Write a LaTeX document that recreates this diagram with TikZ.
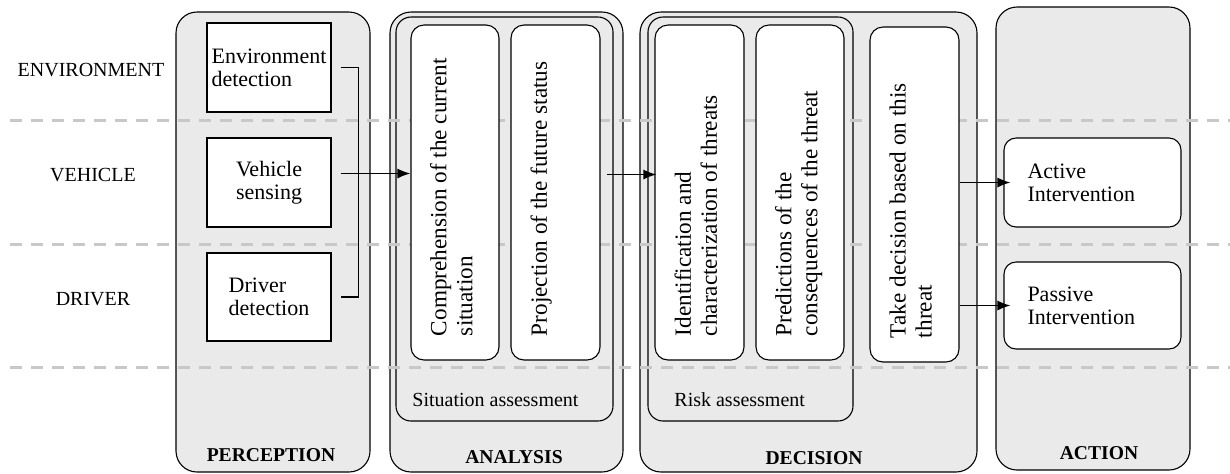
\documentclass[tikz,border=0pt]{standalone}
\usepackage{fontspec}
\setmainfont{Liberation Serif}
\usetikzlibrary{positioning,arrows.meta}

\definecolor{panelgray}{RGB}{234,234,234}
\definecolor{lanegray}{RGB}{200,200,200}

\newcommand{\boxtextfont}{\rmfamily\fontsize{11}{11.5}\selectfont}
\newcommand{\steptextfont}{\rmfamily\fontsize{11.6}{13}\selectfont}

\tikzset{
  panel/.style={draw, fill=panelgray, line width=0.55pt, rounded corners=10.5pt,
    inner sep=0pt, minimum width=#1, minimum height=230pt},
  subpanel/.style={draw, fill=panelgray, line width=0.55pt, rounded corners=7.5pt,
    inner sep=0pt, minimum width=#1, minimum height=202pt},
  sensebox/.style={draw, fill=white, line width=0.55pt, minimum width=62pt,
    minimum height=44.5pt, inner sep=0pt, align=left, font=\boxtextfont},
  stepbox/.style={draw, fill=white, line width=0.55pt, rounded corners=6.5pt,
    rotate=90, inner xsep=12pt, inner ysep=9.5pt, minimum width=167.5pt,
    minimum height=44.5pt, font=\steptextfont},
  actbox/.style={draw, fill=white, line width=0.55pt, rounded corners=6pt,
    minimum width=88.5pt, minimum height=44pt, text width=65pt, align=left,
    inner sep=0pt, font=\boxtextfont},
  lanelabel/.style={font=\rmfamily\fontsize{10}{12}\selectfont, inner sep=0pt},
  stagelabel/.style={font=\rmfamily\fontsize{9.8}{12}\selectfont\bfseries, inner sep=0pt},
  lane/.style={draw=lanegray, line width=1.5pt, dash pattern=on 6pt off 4.5pt},
  link/.style={line width=0.7pt},
  flow/.style={line width=0.75pt, -{Latex[length=6.5pt,width=5pt]}}
}

\newcommand{\steptext}[1]{\parbox[c][25pt][t]{143.5pt}{\raggedright #1}}

\begin{document}
\begin{tikzpicture}[x=0.5pt, y=0.5pt]
    \useasboundingbox (0,0) rectangle (1230,-473);

    % Stages
    \node[panel=97pt] (perception) at (273,-242) {};
    \node[panel=116.5pt] (analysis) at (506.5,-242) {};
    \node[panel=168.5pt] (decision) at (808.5,-242) {};
    \node[panel=97pt, minimum height=231.5pt] (action) at (1093,-238.5) {};

    \node[subpanel=108.5pt] (situation) at (504.5,-219) {};
    \node[subpanel=102.5pt] (risk) at (750.5,-219) {};

    % Lanes
    \foreach \y in {120,244,367}
        \draw[lane] (10,-\y) -- (1230,-\y);

    \node[lanelabel] (envlane) at (91,-70) {ENVIRONMENT};
    \node[lanelabel] (vehlane) at (93,-175) {VEHICLE};
    \node[lanelabel] (drvlane) at (93,-299) {DRIVER};

    % Perception
    \node[sensebox] (envdet) at (269,-67.5) {Environment\\detection};
    \node[sensebox, align=center] (vehsens) at (269,-182.5) {Vehicle\\sensing};
    \node[sensebox, minimum height=44pt] (drvdet) at (269,-297) {Driver\\detection};

    % Analysis
    \node[stepbox, minimum height=44pt] (comp) at (455,-192.5)
        {\steptext{Comprehension of the current\\situation}};
    \node[stepbox] (proj) at (555.5,-192.5)
        {\steptext{Projection of the future status}};

    % Decision
    \node[stepbox] (ident) at (699.5,-192.5)
        {\steptext{Identification and\\characterization of threats}};
    \node[stepbox, minimum height=44pt] (pred) at (800,-192.5)
        {\steptext{Predictions of the\\consequences of the threat}};
    \node[stepbox] (take) at (914.5,-194.5)
        {\steptext{Take decision based on this\\threat}};

    % Action
    \node[actbox, minimum height=44.5pt] (active) at (1092.5,-182.5) {Active\\Intervention};
    \node[actbox, minimum height=43.5pt] (passive) at (1092.5,-305.5) {Passive\\Intervention};

    \node[lanelabel, anchor=west] (sitlabel) at (412,-400) {Situation assessment};
    \node[lanelabel, anchor=west] (risklabel) at (674,-400) {Risk assessment};

    \node[stagelabel] (perclabel) at (271,-455) {PERCEPTION};
    \node[stagelabel] (analabel) at (514,-457) {ANALYSIS};
    \node[stagelabel] (decilabel) at (814,-458) {DECISION};
    \node[stagelabel] (actlabel) at (1099,-453) {ACTION};

    % Connectors
    \draw[link] ([xshift=4.5pt]envdet.east) -- ++(9pt,0) |- ([xshift=4.5pt]drvdet.east);
    \coordinate (vehout) at ([shift={(4.5pt,4.5pt)}]vehsens.east);
    \draw[flow] (vehout) -- (vehout -| comp.north);
    \coordinate (projout) at ([shift={(3pt,9pt)}]proj.south);
    \draw[flow] (projout) -- ([xshift=1pt]projout -| ident.north);
    \draw[flow] (take.south |- active.west) -- ([xshift=3.5pt]active.west);
    \draw[flow] (take.south |- passive.west) -- ([xshift=3.5pt]passive.west);

\end{tikzpicture}
\end{document}
